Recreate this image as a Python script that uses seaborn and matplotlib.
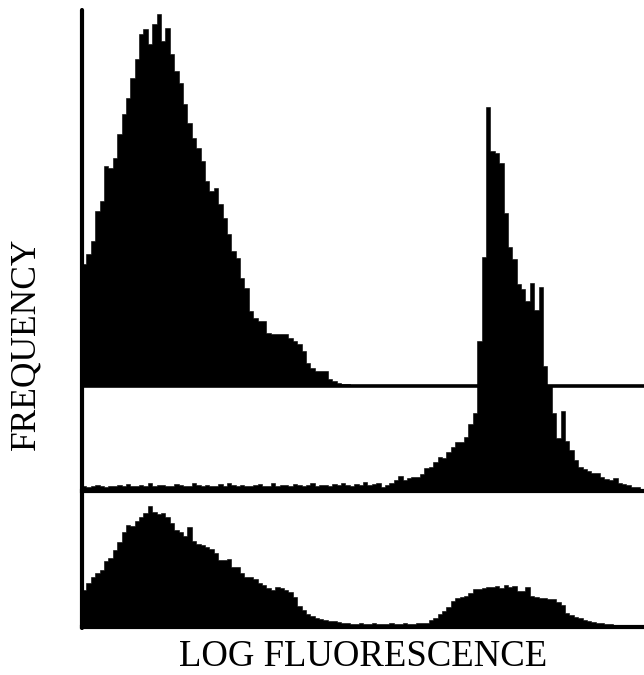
import numpy as np
import pandas as pd
import matplotlib
matplotlib.use("Agg")
import matplotlib.pyplot as plt
import seaborn as sns

# ---------------- data (counts per log-fluorescence channel, 128 channels) ----
N_CHANNELS = 128
channels = np.arange(N_CHANNELS) + 0.5

# top histogram
top_counts = [
    122, 132, 145, 175, 185, 220, 218, 228, 252, 272,
    288, 308, 327, 352, 357, 342, 362, 372, 345, 358,
    332, 315, 303, 282, 263, 248, 238, 225, 205, 195,
    198, 182, 168, 152, 135, 128, 108, 98, 75, 68,
    65, 65, 53, 52, 52, 52, 52, 48, 45, 42,
    35, 23, 18, 15, 15, 15, 7, 5, 3, 2,
    2, 1, 1, 1, 1, 1, 0, 1, 1, 0,
    1, 1, 0, 1, 0, 1, 1, 0, 1, 0,
    1, 0, 1, 1, 0, 1, 0, 1, 0, 1,
    1, 0, 1, 0, 1, 1, 0, 1, 0, 1,
    0, 1, 1, 0, 1, 0, 1, 1, 0, 1,
    0, 1, 1, 0, 1, 0, 1, 1, 0, 1,
    1, 0, 1, 0, 1, 1, 0, 1,
]

# middle histogram
middle_counts = [
    5, 4, 5, 6, 5, 4, 5, 5, 6, 5,
    7, 5, 5, 6, 5, 8, 5, 6, 6, 5,
    5, 7, 6, 5, 5, 8, 6, 5, 6, 5,
    5, 7, 5, 8, 6, 5, 6, 5, 5, 6,
    7, 5, 5, 8, 5, 6, 6, 5, 7, 6,
    5, 6, 8, 5, 6, 6, 5, 7, 6, 8,
    6, 5, 7, 6, 9, 6, 7, 8,
    4, 6, 8, 11, 15, 11, 13, 14, 14, 17,
    23, 24, 29, 34, 33, 39, 44, 49, 49, 54,
    67, 78, 150, 234, 384, 340, 338, 328, 278, 244,
    232, 207, 202, 190, 208, 181, 204, 125, 105, 78,
    53, 80, 50, 41, 31, 24, 22, 20, 18, 18,
    14, 12, 11, 13, 8, 7, 6, 4, 4, 1,
]

# bottom histogram
bottom_counts = [
    37, 44, 50, 54, 57, 66, 69, 77, 85, 95,
    102, 101, 106, 110, 114, 121, 115, 113, 114, 110,
    104, 97, 95, 91, 100, 86, 83, 82, 80, 78,
    74, 67, 67, 68, 60, 60, 54, 50, 50, 48,
    44, 42, 39, 37, 40, 39, 37, 35, 30, 21,
    17, 13, 11, 9, 8, 7, 6, 6, 5, 4,
    4, 3, 3, 4, 3, 3, 4, 3, 3, 3,
    4, 3, 3, 4, 3, 3, 4, 4,
    4, 7, 9, 13, 16, 20, 26, 29, 30, 31,
    34, 38, 38, 39, 40, 40, 41, 39, 42, 40,
    41, 36, 36, 40, 31, 30, 29, 29, 28, 28,
    25, 22, 14, 12, 10, 9, 7, 6, 5, 4,
    4, 3, 3, 2, 2, 2, 1, 1, 1, 1,
]

X_LABEL = "LOG FLUORESCENCE"
Y_LABEL = "FREQUENCY"

# ---------------- figure ----------------
sns.set_style("white")
plt.rcParams["font.family"] = ["Liberation Serif", "DejaVu Serif"]

W, H = 644, 675
fig = plt.figure(figsize=(W / 100, H / 100), dpi=100)
fig.patch.set_facecolor("white")

left = 82 / W
width = (W - 82) / W


def panel(base_px, height_px, z):
    ax = fig.add_axes([left, (H - base_px) / H, width, height_px / H])
    ax.set_zorder(z)
    ax.patch.set_alpha(0)
    for s in ax.spines.values():
        s.set_visible(False)
    return ax


ax1 = panel(386, 386, 1)   # top panel
ax2 = panel(491, 491, 2)   # middle panel, drawn over the top one
ax3 = panel(627, 140, 1)   # bottom panel

for ax, counts in [(ax1, top_counts), (ax2, middle_counts), (ax3, bottom_counts)]:
    df = pd.DataFrame({"channel": channels, "count": counts})
    sns.histplot(data=df, x="channel", weights="count", bins=N_CHANNELS,
                 binrange=(0, N_CHANNELS), element="step", fill=True,
                 color="black", alpha=1, linewidth=0.4, edgecolor="black", ax=ax)
    ax.set_xlim(0, N_CHANNELS)
    ax.set_xlabel("")
    ax.set_ylabel("")
    ax.set_xticks([])
    ax.set_yticks([])
    ax.spines["bottom"].set_visible(True)
    ax.spines["bottom"].set_color("black")

ax1.set_ylim(0, 386)
ax2.set_ylim(0, 491)
ax3.set_ylim(0, 140)
ax1.spines["bottom"].set_linewidth(2.6)
ax2.spines["bottom"].set_linewidth(3.0)
ax3.spines["bottom"].set_linewidth(3.0)

# frame axes carrying the vertical axis line and labels
ax0 = fig.add_axes([left, (H - 628) / H, width, (628 - 10) / H])
ax0.set_zorder(3)
ax0.patch.set_alpha(0)
for k, s in ax0.spines.items():
    s.set_visible(k == "left")
ax0.spines["left"].set_linewidth(3.0)
ax0.spines["left"].set_color("black")
ax0.spines["left"].set_capstyle("round")
ax0.set_xticks([])
ax0.set_yticks([])
ax0.set_xlim(0, N_CHANNELS)

ax0.set_xlabel(X_LABEL, fontsize=26.5, labelpad=8, color="black")
ax0.set_ylabel(Y_LABEL, fontsize=25.5, color="black")
ax0.yaxis.set_label_coords((26 - 82) / (W - 82), (628 - 344) / (628 - 10))
ax0.yaxis.label.set_verticalalignment("center")

fig.savefig("out.png", dpi=100, facecolor="white")
